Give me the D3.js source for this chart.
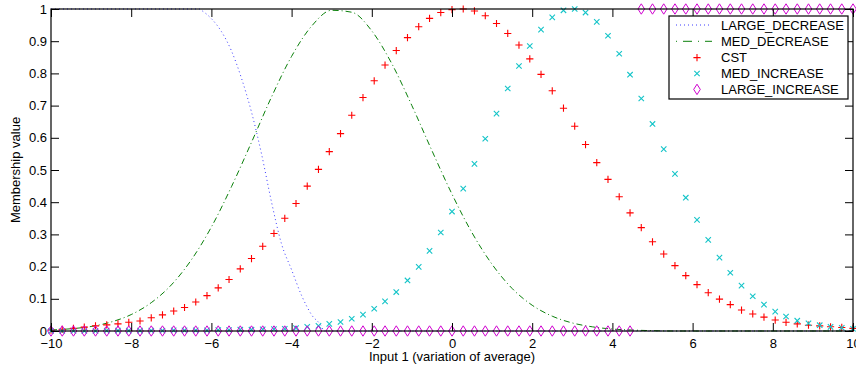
<!DOCTYPE html>
<html>
<head>
<meta charset="utf-8">
<script src="https://cdn.jsdelivr.net/npm/d3@7"></script>
<style>
  html, body { margin: 0; padding: 0; background: #fff; }
  svg { display: block; font-family: "Liberation Sans", Arial, Helvetica, sans-serif; }
</style>
</head>
<body>
<svg id="chart" width="856" height="369"></svg>
<script>
// ---- data ----
const seriesNames = ["LARGE_DECREASE", "MED_DECREASE", "CST", "MED_INCREASE", "LARGE_INCREASE"];

const xTicks = [-10, -8, -6, -4, -2, 0, 2, 4, 6, 8, 10];
const yTicks = [0, 0.1, 0.2, 0.3, 0.4, 0.5, 0.6, 0.7, 0.8, 0.9, 1];

// marker sample positions
const markerX = [-10, -9.72, -9.44, -9.17, -8.89, -8.61, -8.33, -8.06, -7.78, -7.5,
  -7.22, -6.94, -6.67, -6.39, -6.11, -5.83, -5.56, -5.28, -5, -4.72,
  -4.44, -4.17, -3.89, -3.61, -3.33, -3.06, -2.78, -2.5, -2.22, -1.94,
  -1.67, -1.39, -1.11, -0.83, -0.56, -0.28, 0, 0.28, 0.56, 0.83,
  1.11, 1.39, 1.67, 1.94, 2.22, 2.5, 2.78, 3.06, 3.33, 3.61,
  3.89, 4.17, 4.44, 4.72, 5, 5.28, 5.56, 5.83, 6.11, 6.39,
  6.67, 6.94, 7.22, 7.5, 7.78, 8.06, 8.33, 8.61, 8.89, 9.17,
  9.44, 9.72, 10];

const cstValues = [0.003, 0.005, 0.008, 0.012, 0.016, 0.019, 0.022, 0.027, 0.031, 0.041,
  0.05, 0.062, 0.073, 0.09, 0.11, 0.134, 0.16, 0.193, 0.225, 0.263,
  0.303, 0.35, 0.396, 0.45, 0.502, 0.557, 0.613, 0.67, 0.725, 0.777,
  0.826, 0.871, 0.911, 0.945, 0.971, 0.989, 0.998, 1.0, 0.994, 0.979,
  0.955, 0.924, 0.888, 0.845, 0.797, 0.746, 0.692, 0.636, 0.579, 0.523,
  0.471, 0.417, 0.367, 0.321, 0.277, 0.239, 0.203, 0.172, 0.144, 0.119,
  0.099, 0.082, 0.065, 0.053, 0.043, 0.034, 0.027, 0.022, 0.018, 0.016,
  0.013, 0.011, 0.008];

const medIncreaseValues = [0, 0, 0, 0, 0, 0.001, 0.001, 0.001, 0.001, 0.001,
  0.001, 0.002, 0.002, 0.002, 0.002, 0.003, 0.003, 0.004, 0.004, 0.005,
  0.006, 0.007, 0.009, 0.013, 0.016, 0.022, 0.028, 0.038, 0.051, 0.069,
  0.092, 0.121, 0.157, 0.199, 0.249, 0.306, 0.371, 0.442, 0.519, 0.597,
  0.675, 0.753, 0.823, 0.885, 0.936, 0.974, 0.996, 1.0, 0.989, 0.96,
  0.917, 0.861, 0.796, 0.722, 0.643, 0.565, 0.488, 0.414, 0.345, 0.283,
  0.228, 0.181, 0.141, 0.108, 0.082, 0.06, 0.045, 0.032, 0.024, 0.018,
  0.013, 0.01, 0.007];

const largeIncreaseValues = [0, 0, 0, 0, 0, 0, 0, 0, 0, 0,
  0, 0, 0, 0, 0, 0, 0, 0, 0, 0,
  0, 0, 0, 0, 0, 0, 0, 0, 0, 0,
  0, 0, 0, 0, 0, 0, 0, 0, 0, 0,
  0, 0, 0, 0, 0, 0, 0, 0, 0, 0,
  0, 0, 0, 1, 1, 1, 1, 1, 1, 1,
  1, 1, 1, 1, 1, 1, 1, 1, 1, 1,
  1, 1, 1];

// line series
const medDecreaseX = [-10, -9.5, -9, -8.5, -8, -7.5, -7, -6.5, -6, -5.5,
  -5, -4.5, -4, -3.5, -3, -2.5, -2, -1.5, -1, -0.5,
  0, 0.5, 1, 1.5, 2, 2.5, 3, 3.5, 4, 4.5,
  5, 5.5, 6, 7, 8, 9, 10];
const medDecreaseValues = [0.003, 0.007, 0.014, 0.028, 0.051, 0.088, 0.143, 0.221, 0.323, 0.448,
  0.586, 0.727, 0.853, 0.947, 0.996, 0.99, 0.932, 0.83, 0.7, 0.56,
  0.425, 0.305, 0.207, 0.132, 0.08, 0.046, 0.025, 0.013, 0.006, 0.003,
  0.001, 0, 0, 0, 0, 0, 0];

const largeDecreaseX = [-10, -6.3, -6.25, -6, -5.75, -5.5, -5.25, -5, -4.75, -4.5,
  -4.25, -4, -3.75, -3.5, -3.25, -3.2, 10];
const largeDecreaseValues = [1, 1, 0.996, 0.97, 0.93, 0.87, 0.785, 0.68, 0.55, 0.4,
  0.27, 0.19, 0.11, 0.05, 0.013, 0, 0];

// ---- drawing ----
const svg = d3.select("#chart");
const plot = { left: 51, right: 853, top: 9, bottom: 331 };
const x = d3.scaleLinear().domain([-10, 10]).range([plot.left, plot.right]);
const y = d3.scaleLinear().domain([0, 1]).range([plot.bottom, plot.top]);

const colors = { ld: "#3a3aff", md: "#0a800a", cst: "#ff0000", mi: "#14c4c8", li: "#d000d0" };

const lineGen = d3.line().x(d => x(d[0])).y(d => y(d[1])).curve(d3.curveMonotoneX);

// LARGE_DECREASE
svg.append("path")
  .attr("d", lineGen(largeDecreaseX.map((v, i) => [v, largeDecreaseValues[i]])))
  .attr("fill", "none").attr("stroke", colors.ld).attr("stroke-width", 1)
  .attr("stroke-dasharray", "1,3");

// MED_DECREASE
svg.append("path")
  .attr("d", lineGen(medDecreaseX.map((v, i) => [v, medDecreaseValues[i]])))
  .attr("fill", "none").attr("stroke", colors.md).attr("stroke-width", 1)
  .attr("stroke-dasharray", "6,3,1,3");

// marker shapes
function plus(g, cx, cy, s) {
  g.append("path").attr("d", `M${cx - s},${cy}H${cx + s}M${cx},${cy - s}V${cy + s}`);
}
function cross(g, cx, cy, s) {
  g.append("path").attr("d", `M${cx - s},${cy - s}L${cx + s},${cy + s}M${cx - s},${cy + s}L${cx + s},${cy - s}`);
}
function diamond(g, cx, cy, w, h) {
  g.append("path").attr("d", `M${cx},${cy - h}L${cx + w},${cy}L${cx},${cy + h}L${cx - w},${cy}Z`);
}

const gCst = svg.append("g").attr("stroke", colors.cst).attr("stroke-width", 1.1).attr("fill", "none");
markerX.forEach((v, i) => plus(gCst, x(v), y(cstValues[i]), 3.6));

const gMi = svg.append("g").attr("stroke", colors.mi).attr("stroke-width", 1.1).attr("fill", "none");
markerX.forEach((v, i) => cross(gMi, x(v), y(medIncreaseValues[i]), 2.7));

const gLi = svg.append("g").attr("stroke", colors.li).attr("stroke-width", 1).attr("fill", "none");
markerX.forEach((v, i) => diamond(gLi, x(v), y(largeIncreaseValues[i]), 3.3, 5.2));

// axes (ticks inward, mirrored)
const fontSize = 13;
const axB = svg.append("g").attr("transform", `translate(0,${plot.bottom})`)
  .call(d3.axisBottom(x).tickValues(xTicks).tickSizeInner(-8).tickSizeOuter(0).tickPadding(8));
const axT = svg.append("g").attr("transform", `translate(0,${plot.top})`)
  .call(d3.axisTop(x).tickValues(xTicks).tickSizeInner(-8).tickSizeOuter(0).tickFormat(""));
const axL = svg.append("g").attr("transform", `translate(${plot.left},0)`)
  .call(d3.axisLeft(y).tickValues(yTicks).tickSizeInner(-8).tickSizeOuter(0).tickPadding(4)
    .tickFormat(d3.format("~g")));
const axR = svg.append("g").attr("transform", `translate(${plot.right},0)`)
  .call(d3.axisRight(y).tickValues(yTicks).tickSizeInner(-8).tickSizeOuter(0).tickFormat(""));

[axB, axT, axL, axR].forEach(a => {
  a.select(".domain").remove();
  a.selectAll("line").attr("stroke", "#000");
  a.selectAll("text").attr("fill", "#000").style("font-size", fontSize + "px")
    .style("font-family", '"Liberation Sans", Arial, sans-serif');
});

// box
svg.append("rect")
  .attr("x", plot.left).attr("y", plot.top)
  .attr("width", plot.right - plot.left).attr("height", plot.bottom - plot.top)
  .attr("fill", "none").attr("stroke", "#000").attr("stroke-width", 1.2);

// axis labels
svg.append("text")
  .attr("x", (plot.left + plot.right) / 2).attr("y", 361)
  .attr("text-anchor", "middle").style("font-size", fontSize + "px")
  .text("Input 1 (variation of average)");
svg.append("text")
  .attr("transform", `translate(20,${(plot.top + plot.bottom) / 2}) rotate(-90)`)
  .attr("text-anchor", "middle").style("font-size", fontSize + "px")
  .text("Membership value");

// legend
const leg = svg.append("g");
leg.append("rect").attr("x", 669).attr("y", 16).attr("width", 179).attr("height", 83)
  .attr("fill", "#fff").attr("stroke", "#000").attr("stroke-width", 1.2);
const rowY = [25, 41.3, 57.6, 73.5, 89.4];
const sx0 = 676, sx1 = 712, mx = 697, tx = 721;
leg.append("line").attr("x1", sx0).attr("x2", sx1).attr("y1", rowY[0]).attr("y2", rowY[0])
  .attr("stroke", colors.ld).attr("stroke-dasharray", "1,3");
leg.append("line").attr("x1", sx0).attr("x2", sx1).attr("y1", rowY[1]).attr("y2", rowY[1])
  .attr("stroke", colors.md).attr("stroke-dasharray", "1,6,9,6");
const lc = leg.append("g").attr("stroke", colors.cst).attr("stroke-width", 1.1).attr("fill", "none");
plus(lc, mx, rowY[2], 3.6);
const lm = leg.append("g").attr("stroke", colors.mi).attr("stroke-width", 1.1).attr("fill", "none");
cross(lm, mx, rowY[3], 2.7);
const ll = leg.append("g").attr("stroke", colors.li).attr("stroke-width", 1).attr("fill", "none");
diamond(ll, mx, rowY[4], 3.3, 5.2);
seriesNames.forEach((n, i) => {
  leg.append("text").attr("x", tx).attr("y", rowY[i] + 4.7)
    .style("font-size", fontSize + "px").text(n);
});
</script>
</body>
</html>
